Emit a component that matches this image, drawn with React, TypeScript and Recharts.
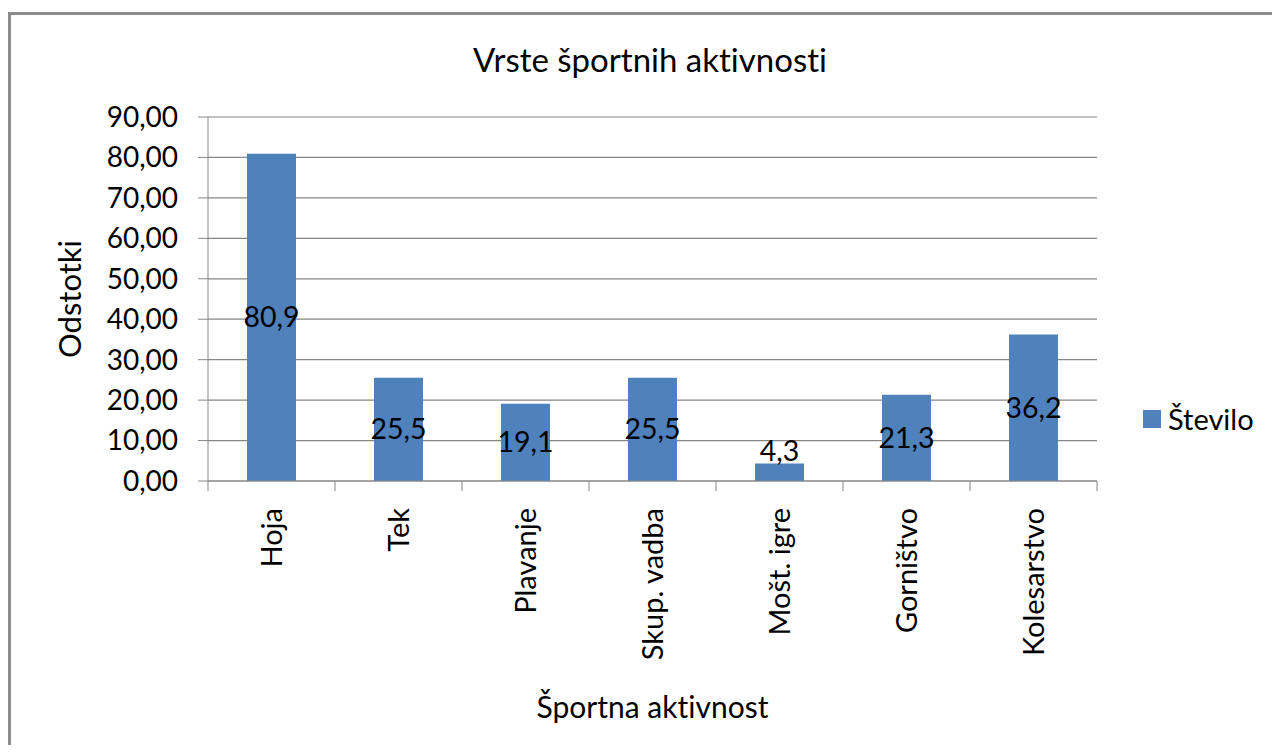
import { Bar, BarChart, CartesianGrid, LabelList, Legend, XAxis, YAxis } from "recharts";

const categories = ["Hoja", "Tek", "Plavanje", "Skup. vadba", "Mošt. igre", "Gorništvo", "Kolesarstvo"];
const stevilo = [80.9, 25.5, 19.1, 25.5, 4.3, 21.3, 36.2];
const yTicks = [0, 10, 20, 30, 40, 50, 60, 70, 80, 90];

const data = categories.map((name, i) => ({ name, value: stevilo[i] }));

const FONT = "Lato, 'Open Sans', sans-serif";
const GRID = "#868686";
const BLUE = "#4F81BD";
const TICK_GAP = 27;
const noLig = { fontVariantLigatures: "none" as const };

const comma = (v: number, d: number) => v.toFixed(d).replace(".", ",");

// category label plus the little marks on the band edges, as in Excel
function CategoryTick(props: any) {
  const { x, y, payload, index, visibleTicksCount } = props;
  const half = payload.offset || 0;
  const axisY = y - TICK_GAP;
  const isLast = index === visibleTicksCount - 1;
  return (
    <g>
      <line x1={x - half} x2={x - half} y1={axisY} y2={axisY + 10} stroke={GRID} />
      {isLast && <line x1={x + half} x2={x + half} y1={axisY} y2={axisY + 10} stroke={GRID} />}
      <text
        x={x}
        y={y}
        transform={`rotate(-90, ${x}, ${y})`}
        textAnchor="end"
        dy="0.355em"
        fontSize={29}
        fill="#000"
        fontFamily={FONT}
      >
        {payload.value}
      </text>
    </g>
  );
}

function BarValue(props: any) {
  const { x, y, width, height, value } = props;
  const cx = x + width / 2;
  // too short to hold the text: sit on top of the bar, like the original
  const ty = height < 30 ? y - 3 : y + height / 2 + 10;
  return (
    <text x={cx} y={ty} textAnchor="middle" fontSize={28.5} fill="#000" fontFamily={FONT}>
      {comma(Number(value), 1)}
    </text>
  );
}

function LegendBox(props: any) {
  const { payload } = props;
  return (
    <div style={{ fontFamily: FONT }}>
      {(payload || []).map((p: any) => (
        <div key={p.value} style={{ display: "flex", alignItems: "center" }}>
          <span style={{ display: "inline-block", width: 18, height: 18, background: p.color, marginRight: 7 }} />
          <span style={{ fontSize: 29, color: "#000" }}>{p.value}</span>
        </div>
      ))}
    </div>
  );
}

export default function App() {
  return (
    <div style={{ position: "relative", width: 1280, height: 753, margin: -8, overflow: "hidden", background: "#fff", fontFamily: FONT, ...noLig }}>
      <div style={{ position: "absolute", left: 8, top: 12, width: 1300, height: 800, borderLeft: "3px solid #8c8c8c", borderTop: "3px solid #8c8c8c" }} />
      <div style={{ position: "absolute", left: 0, top: 39, width: 1300, textAlign: "center", fontSize: 33, lineHeight: "40px", color: "#000" }}>
        Vrste športnih aktivnosti
      </div>
      <BarChart
        width={1280}
        height={753}
        data={data}
        margin={{ top: 117, right: 183, bottom: 32, left: 0 }}
        barCategoryGap="30.7%"
      >
        <CartesianGrid vertical={false} stroke={GRID} strokeWidth={1.2} />
        <XAxis
          dataKey="name"
          height={240}
          interval={0}
          tickSize={0}
          tickMargin={TICK_GAP}
          tickLine={false}
          axisLine={{ stroke: GRID }}
          tick={<CategoryTick />}
          label={{ value: "Športna aktivnost", position: "insideBottom", offset: 3, style: { fontSize: 30, fill: "#000", fontFamily: FONT } }}
        />
        <YAxis
          width={208}
          domain={[0, 90]}
          ticks={yTicks}
          interval={0}
          tickSize={10}
          tickMargin={20}
          tickFormatter={(v) => comma(Number(v), 2)}
          tick={{ fontSize: 28, fill: "#000", fontFamily: FONT }}
          axisLine={{ stroke: GRID }}
          tickLine={{ stroke: GRID }}
          label={{ value: "Odstotki", angle: -90, position: "insideLeft", offset: 70, style: { textAnchor: "middle", fontSize: 31, fill: "#000", fontFamily: FONT } }}
        />
        <Legend
          layout="horizontal"
          verticalAlign="middle"
          align="center"
          content={<LegendBox />}
          wrapperStyle={{ left: 1143, top: 401, width: "auto" }}
        />
        <Bar dataKey="value" name="Število" fill={BLUE} isAnimationActive={false}>
          <LabelList dataKey="value" content={<BarValue />} />
        </Bar>
      </BarChart>
    </div>
  );
}
